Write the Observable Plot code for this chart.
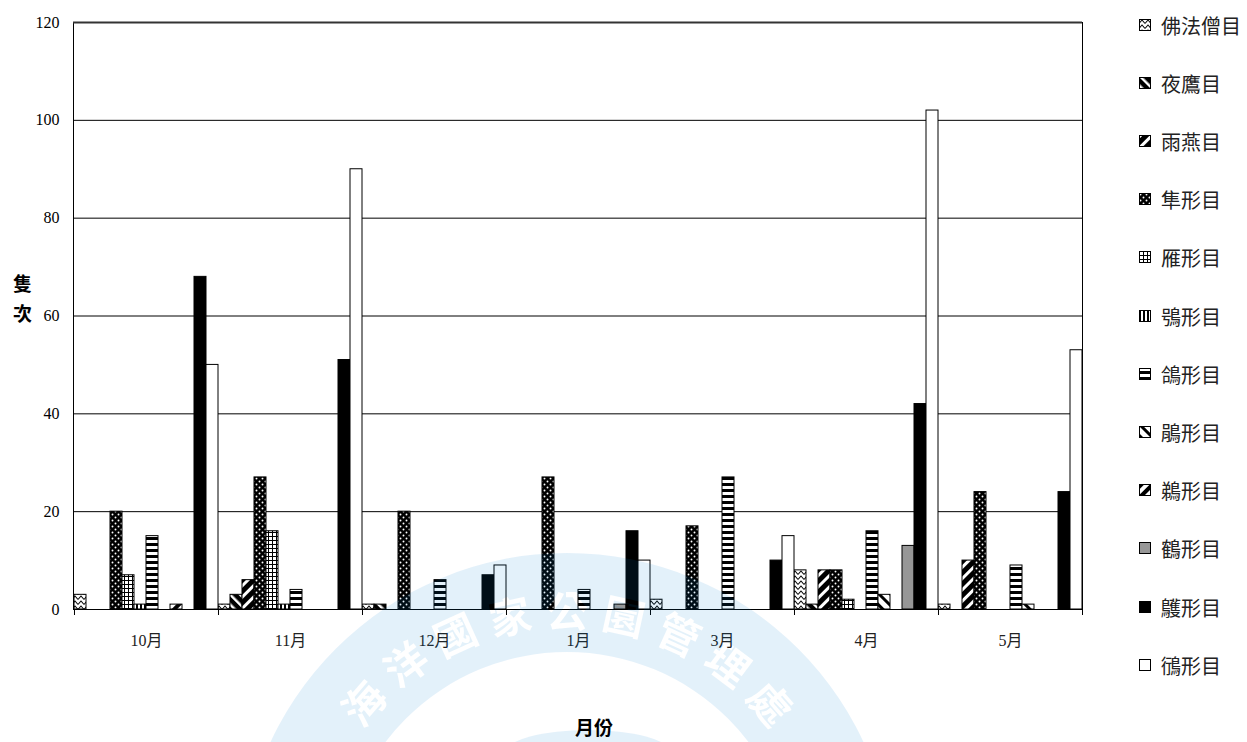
<!DOCTYPE html>
<html><head><meta charset="utf-8">
<script src="https://cdn.jsdelivr.net/npm/d3@7"></script>
<script src="https://cdn.jsdelivr.net/npm/@observablehq/plot@0.6"></script>
<style>
body{margin:0;background:#fff;}
#wrap{position:relative;width:1247px;height:742px;overflow:hidden;background:#fff;}
#wrap > svg.plot{position:absolute;left:0;top:0;}
.lg{position:absolute;left:1139px;height:24px;display:flex;align-items:center;font-family:"Noto Sans CJK TC","Noto Sans CJK SC",sans-serif;font-size:20px;color:#222;white-space:nowrap;}
.lg svg{margin-right:9px;}
.ttl{position:absolute;font-family:"Noto Sans CJK TC","Noto Sans CJK SC",sans-serif;font-weight:bold;font-size:19px;color:#000;line-height:1;}
</style></head><body><div id="wrap"></div>
<script>
// categories
const months = ["10月","11月","12月","1月","3月","4月","5月"];
const orders = ["佛法僧目","夜鷹目","雨燕目","隼形目","雁形目","鴞形目","鴿形目","鵑形目","鵜形目","鶴形目","鸌形目","鴴形目"];
// counts per order, one value per month (0 = none)
const coraciiformes   = [3, 1, 1, 0, 2, 8, 1];   // 佛法僧目
const caprimulgiformes= [0, 3, 1, 0, 0, 1, 0];   // 夜鷹目
const apodiformes     = [0, 6, 0, 0, 0, 8, 10];  // 雨燕目
const falconiformes   = [20, 27, 20, 27, 17, 8, 24]; // 隼形目
const anseriformes    = [7, 16, 0, 0, 0, 2, 0];  // 雁形目
const strigiformes    = [1, 1, 0, 0, 0, 0, 0];   // 鴞形目
const columbiformes   = [15, 4, 6, 4, 27, 16, 9]; // 鴿形目
const cuculiformes    = [0, 0, 0, 0, 0, 3, 1];   // 鵑形目
const pelecaniformes  = [1, 0, 0, 0, 0, 0, 0];   // 鵜形目
const gruiformes      = [0, 0, 0, 1, 0, 13, 0];  // 鶴形目
const ciconiiformes   = [68, 51, 7, 16, 10, 42, 24]; // 鸌形目
const charadriiformes = [50, 90, 9, 10, 15, 102, 53]; // 鴴形目
const seriesValues = [coraciiformes, caprimulgiformes, apodiformes, falconiformes, anseriformes, strigiformes,
  columbiformes, cuculiformes, pelecaniformes, gruiformes, ciconiiformes, charadriiformes];
const yTicks = [0, 20, 40, 60, 80, 100, 120];

const W = 1247, H = 742, ML = 73, MR = 165, MT = 22, MB = 133;
const keys = months.flatMap(m => orders.map(o => m + "|" + o));
const bw = (W - ML - MR) / keys.length;
const rows = [];
orders.forEach((o, si) => seriesValues[si].forEach((v, mi) => {
  if (v > 0) rows.push({month: months[mi], order: o, key: months[mi] + "|" + o, value: v});
}));
const fills = orders.map((o, i) => i < 9 ? `url(#pat${i})` : ["#979797", "#000000", "#ffffff"][i - 9]);

const patternDefs = `
<pattern id="pat0" patternUnits="userSpaceOnUse" width="6" height="5"><rect width="6" height="5" fill="#fff"/><path d="M0,4.5 L3,1 L6,4.5" fill="none" stroke="#000" stroke-width="1.1"/></pattern>
<pattern id="pat1" patternUnits="userSpaceOnUse" width="7" height="7" patternTransform="rotate(-45)"><rect width="7" height="7" fill="#000"/><rect width="2.5" height="7" fill="#fff"/></pattern>
<pattern id="pat2" patternUnits="userSpaceOnUse" width="8" height="8" patternTransform="rotate(45)"><rect width="8" height="8" fill="#000"/><rect width="3" height="8" fill="#fff"/></pattern>
<pattern id="pat3" patternUnits="userSpaceOnUse" width="6" height="6"><rect width="6" height="6" fill="#000"/><circle cx="1.5" cy="1.5" r="0.95" fill="#fff"/><circle cx="4.5" cy="4.5" r="0.95" fill="#fff"/></pattern>
<pattern id="pat4" patternUnits="userSpaceOnUse" width="4" height="4"><rect width="4" height="4" fill="#000"/><rect x="1" y="1" width="3" height="3" fill="#fff"/></pattern>
<pattern id="pat5" patternUnits="userSpaceOnUse" width="4" height="4"><rect width="4" height="4" fill="#fff"/><rect width="2" height="4" fill="#000"/></pattern>
<pattern id="pat6" patternUnits="userSpaceOnUse" width="6" height="6"><rect width="6" height="6" fill="#000"/><rect width="6" height="3" fill="#fff"/></pattern>
<pattern id="pat7" patternUnits="userSpaceOnUse" width="8" height="8" patternTransform="rotate(-45)"><rect width="8" height="8" fill="#fff"/><rect width="3" height="8" fill="#000"/></pattern>
<pattern id="pat8" patternUnits="userSpaceOnUse" width="8" height="8" patternTransform="rotate(45)"><rect width="8" height="8" fill="#fff"/><rect width="4" height="8" fill="#000"/></pattern>`;

const chart = Plot.plot({
  width: W, height: H,
  marginLeft: ML, marginRight: MR, marginTop: MT, marginBottom: MB,
  style: {fontFamily: "'Liberation Serif','Noto Sans CJK TC',serif", fontSize: "16px", color: "#000", background: "transparent", overflow: "visible"},
  x: {type: "band", domain: keys, padding: 0, axis: null},
  y: {domain: [0, 120], ticks: yTicks.length - 1, tickSize: 0, tickPadding: 14, label: null},
  color: {type: "ordinal", domain: orders, range: fills},
  marks: [
    Plot.ruleY(yTicks.slice(1, -1), {stroke: "#000", strokeWidth: 1}),
    Plot.barY(rows, {x: "key", y: "value", fill: "order", stroke: "#000", strokeWidth: 1}),
    Plot.frame({stroke: "#000", strokeWidth: 1}),
    Plot.ruleY([120], {stroke: "#333", strokeWidth: 2}),
    Plot.ruleX(months, {x: m => m + "|" + orders[0], dx: -bw / 2, y1: 0, y2: 0, insetBottom: -6, stroke: "#000"}),
    Plot.ruleX([months[months.length - 1]], {x: m => m + "|" + orders[orders.length - 1], dx: bw / 2, y1: 0, y2: 0, insetBottom: -6, stroke: "#000"}),
    Plot.text(months, {x: m => m + "|" + orders[6], dx: -bw / 2, y: 0, dy: 31, fontSize: 16, fill: "#222"})
  ]
});
chart.classList.add("plot");
d3.select(chart).insert("defs", ":first-child").html(patternDefs);

const wrap = document.getElementById("wrap");
wrap.appendChild(chart);

// watermark overlay (decorative)
const wm = d3.select(wrap).append("svg").attr("width", W).attr("height", H)
  .style("position", "absolute").style("left", 0).style("top", 0).style("pointer-events", "none");
const cx = 567, cy = 880;
const mask = wm.append("defs").append("mask").attr("id", "wmMask");
mask.append("rect").attr("width", W).attr("height", H).attr("fill", "#fff");
const wmChars = "海洋國家公園管理處".split("");
wmChars.forEach((c, i) => {
  const a = -49 + i * 12.25;
  mask.append("text").text(c)
    .attr("transform", `rotate(${a},${cx},${cy}) translate(${cx},${cy - 272})`)
    .attr("text-anchor", "middle").attr("dominant-baseline", "central")
    .attr("font-family", "'Noto Sans CJK TC',sans-serif").attr("font-weight", "bold")
    .attr("font-size", 42).attr("fill", "#000");
});
const g = wm.append("g").attr("mask", "url(#wmMask)").attr("fill", "rgb(0,130,210)").attr("fill-opacity", 0.11);
g.append("path").attr("transform", `translate(${cx},${cy})`)
  .attr("d", d3.arc()({innerRadius: 228, outerRadius: 327, startAngle: 0, endAngle: 2 * Math.PI}));
g.append("ellipse").attr("cx", 588).attr("cy", 752).attr("rx", 82).attr("ry", 22);

// legend
orders.forEach((o, i) => {
  const d = document.createElement("div");
  d.className = "lg";
  d.style.top = (13 + i * 58.2) + "px";
  d.innerHTML = `<svg width="13" height="13"><rect x="0.5" y="0.5" width="11" height="11" fill="${fills[i]}" stroke="#000" stroke-width="1"/></svg><span>${o}</span>`;
  wrap.appendChild(d);
});

// axis titles
const yt = document.createElement("div");
yt.className = "ttl"; yt.style.left = "13px"; yt.style.top = "268px"; yt.style.lineHeight = "30px";
yt.innerHTML = "隻<br>次";
wrap.appendChild(yt);
const xt = document.createElement("div");
xt.className = "ttl"; xt.style.left = "575px"; xt.style.top = "716px"; xt.style.lineHeight = "22px";
xt.textContent = "月份";
wrap.appendChild(xt);
</script>
</body></html>
